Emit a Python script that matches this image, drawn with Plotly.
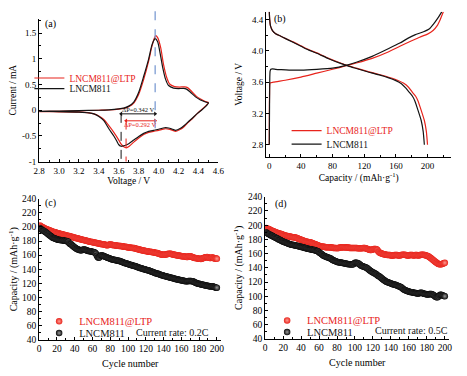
import plotly.graph_objects as go

# ---------------- DATA ----------------
# (a) cyclic voltammetry: voltage (V) / current (mA), full loop
cv_v_ltp = [2.8, 3.0, 3.2, 3.4, 3.5, 3.6, 3.65, 3.7, 3.75, 3.8, 3.85, 3.9, 3.93, 3.95, 3.97, 3.99, 4.02, 4.05, 4.08, 4.11, 4.16, 4.21, 4.26, 4.29, 4.33, 4.38, 4.43, 4.47, 4.5,
            4.47, 4.43, 4.39, 4.34, 4.3, 4.26, 4.22, 4.17, 4.14, 4.1, 4.06, 4.0, 3.95, 3.9, 3.85, 3.8, 3.75, 3.705, 3.675, 3.65, 3.62, 3.6, 3.55, 3.5, 3.45, 3.4, 3.35, 3.3, 3.2, 3.0, 2.8]
cv_i_ltp = [-0.025, -0.02, -0.01, 0.0, 0.005, 0.02, 0.035, 0.07, 0.14, 0.31, 0.6, 0.96, 1.22, 1.36, 1.45, 1.41, 1.22, 0.88, 0.64, 0.51, 0.46, 0.45, 0.455, 0.44, 0.37, 0.27, 0.21, 0.17, 0.15,
            0.08, 0.01, -0.06, -0.16, -0.23, -0.31, -0.37, -0.41, -0.39, -0.365, -0.36, -0.39, -0.41, -0.43, -0.47, -0.54, -0.62, -0.70, -0.73, -0.71, -0.65, -0.58, -0.43, -0.3, -0.18, -0.11, -0.07, -0.05, -0.035, -0.03, -0.025]
cv_v_bare = [2.8, 3.0, 3.2, 3.4, 3.5, 3.6, 3.65, 3.7, 3.75, 3.8, 3.85, 3.9, 3.93, 3.95, 3.965, 3.99, 4.01, 4.04, 4.07, 4.1, 4.15, 4.2, 4.25, 4.28, 4.32, 4.37, 4.42, 4.47, 4.5,
             4.47, 4.43, 4.39, 4.34, 4.3, 4.26, 4.22, 4.17, 4.14, 4.1, 4.06, 4.0, 3.95, 3.9, 3.85, 3.8, 3.75, 3.7, 3.66, 3.625, 3.6, 3.58, 3.55, 3.5, 3.45, 3.4, 3.35, 3.3, 3.2, 3.0, 2.8]
cv_i_bare = [-0.02, -0.015, -0.008, 0.0, 0.008, 0.025, 0.04, 0.08, 0.16, 0.35, 0.66, 1.0, 1.25, 1.35, 1.39, 1.33, 1.16, 0.84, 0.6, 0.48, 0.43, 0.42, 0.425, 0.41, 0.35, 0.26, 0.2, 0.16, 0.14,
             0.07, 0.0, -0.06, -0.15, -0.22, -0.29, -0.35, -0.39, -0.37, -0.345, -0.34, -0.37, -0.39, -0.41, -0.45, -0.51, -0.58, -0.65, -0.685, -0.70, -0.67, -0.6, -0.5, -0.36, -0.2, -0.12, -0.07, -0.05, -0.035, -0.025, -0.02]
peak_ox = 3.965
dp_bare = 0.342
dp_ltp = 0.292

# (b) charge / discharge profiles: capacity (mAh/g) / voltage (V)
chg_cap_ltp = [0, 0.3, 1, 5, 20, 40, 60, 80, 97, 110, 130, 151, 165, 180, 190, 200, 207, 212, 216, 220]
chg_v_ltp = [2.8, 3.45, 3.59, 3.60, 3.625, 3.665, 3.715, 3.765, 3.81, 3.845, 3.905, 3.99, 4.06, 4.13, 4.175, 4.215, 4.26, 4.32, 4.4, 4.5]
dis_cap_ltp = [0, 0.5, 1.5, 4, 8, 14, 20, 30, 40, 50, 60, 75, 90, 100, 110, 125, 140, 152, 162, 170, 176, 181, 185, 188, 192, 196, 198.5, 200]
dis_v_ltp = [4.5, 4.4, 4.32, 4.26, 4.22, 4.19, 4.16, 4.115, 4.065, 4.015, 3.975, 3.905, 3.845, 3.81, 3.78, 3.735, 3.695, 3.66, 3.625, 3.585, 3.535, 3.47, 3.42, 3.36, 3.24, 3.11, 2.97, 2.8]
chg_cap_bare = [0, 0.3, 0.6, 1, 2, 4, 8, 15, 25, 40, 60, 80, 97, 110, 130, 151, 165, 175, 184, 195, 202, 208, 213, 218]
chg_v_bare = [2.8, 3.3, 3.65, 3.74, 3.765, 3.77, 3.765, 3.76, 3.755, 3.755, 3.765, 3.78, 3.815, 3.855, 3.93, 4.03, 4.1, 4.16, 4.205, 4.245, 4.28, 4.35, 4.42, 4.5]
dis_cap_bare = [0, 0.5, 1.5, 4, 8, 14, 20, 30, 40, 50, 60, 75, 90, 100, 110, 125, 140, 151, 160, 167, 172, 177, 181, 184, 188, 192, 194.5, 196]
dis_v_bare = [4.5, 4.4, 4.32, 4.26, 4.22, 4.19, 4.16, 4.11, 4.06, 4.01, 3.97, 3.9, 3.84, 3.805, 3.775, 3.73, 3.69, 3.655, 3.62, 3.58, 3.53, 3.47, 3.42, 3.36, 3.24, 3.11, 2.97, 2.8]

# (c)/(d) cycling: cycle number / discharge capacity (mAh/g)
cycles = list(range(1, 201))
cap_02C_ltp = [
    202, 201, 200, 199.5, 199, 198, 197.5, 197, 196.5, 196,
    195.5, 195, 194.5, 194, 193.5, 193, 193, 192.5, 192, 191.5,
    191, 191, 190.5, 190, 190, 189.5, 189, 189, 188.5, 188,
    188, 187.5, 187, 187, 186.5, 186, 186, 185.5, 185, 185,
    184.5, 184, 184, 183.5, 183, 183, 182.5, 182, 182, 181.5,
    181, 181, 180.5, 180, 180, 179.5, 179, 179, 178.5, 178.5,
    178, 178, 177.5, 177.5, 177, 177, 176.5, 176.5, 176, 176,
    175.5, 175.5, 175, 175, 174.5, 174, 174, 174.5, 175, 175,
    175, 174.5, 174.5, 174, 174, 174, 173.5, 173.5, 173.5, 173,
    173, 173, 172.5, 172.5, 172, 172, 172, 171.5, 171.5, 171,
    171, 171, 170.5, 170.5, 170, 170, 170, 169.5, 169, 169,
    168.5, 168, 168, 167.5, 167, 167, 166.5, 166.5, 166, 166,
    165.5, 165.5, 165, 165, 165, 164.5, 164.5, 164, 164, 163.5,
    163.5, 163, 163, 162.5, 162, 161.5, 161, 161, 160.5, 160.5,
    160.5, 161, 161, 161.5, 161.5, 162, 162, 162, 161.5, 161,
    161, 160.5, 160.5, 160, 160, 159.5, 159.5, 159, 159, 158.5,
    158.5, 158.5, 158, 158, 158, 157.5, 157.5, 158, 158.5, 158.5,
    158, 157.5, 157, 156.5, 156, 156, 155.5, 155.5, 155, 155,
    155, 154.5, 155, 155.5, 156, 156.5, 157, 157, 157.5, 157,
    156.5, 156, 156, 156.5, 157, 156, 155.5, 155, 155.5, 155]
cap_02C_bare = [
    198, 197, 196, 195, 194.5, 194, 193, 192, 191, 190,
    189, 188, 187, 186, 185, 184.5, 184, 183.5, 183, 182.5,
    182, 182, 181.5, 181.5, 181, 181, 181, 180.5, 180.5, 180,
    180, 179.5, 179, 177, 176, 175.5, 174, 173, 172, 171,
    170, 169, 168.5, 168, 167.5, 167, 167, 167, 167.5, 168,
    168, 167.5, 167, 166.5, 166, 166, 165.5, 165.5, 165, 165,
    164.5, 164, 163.5, 162, 159, 157, 156.5, 157, 159, 160,
    159.5, 159, 158.5, 158, 157.5, 157, 156.5, 156, 155.5, 155,
    154.5, 154, 154, 153.5, 153, 153, 152.5, 152.5, 152, 152,
    151.5, 151, 150.5, 150, 149.5, 149, 148.5, 148.5, 148, 147.5,
    147, 146.5, 146, 146, 145.5, 145, 144.5, 144.5, 144, 143.5,
    143, 142.5, 142, 141.5, 141.5, 141, 140.5, 140, 140, 139.5,
    139, 138.5, 138.5, 138, 137.5, 137, 136.5, 136, 135.5, 135,
    134.5, 134, 134, 133.5, 133, 132.5, 132, 131.5, 131.5, 131,
    130.5, 130, 130, 129.5, 129, 129, 128.5, 128, 128, 127.5,
    127, 127, 126.5, 126, 126, 125.5, 125, 125, 124.5, 124.5,
    124, 124, 123.5, 123.5, 123, 123, 123, 123.5, 123.5, 123.5,
    123.5, 123, 123, 122.5, 121.5, 121, 120.5, 120, 119.5, 119.5,
    119, 118.5, 118.5, 118, 118, 117.5, 117, 117, 116.5, 116.5,
    116, 116, 115.5, 115.5, 116, 115.5, 115, 114.5, 114, 114]
cap_05C_ltp = [
    196, 195.5, 195, 194.5, 194, 193, 192.5, 192, 191.5, 191,
    190.5, 190, 189.5, 189, 188.5, 188, 188, 187.5, 187, 186.5,
    186, 185.5, 185, 185, 184.5, 184.5, 184, 184, 183.5, 183.5,
    183, 183, 182.5, 182.5, 182, 181.5, 181, 180.5, 180, 179.5,
    179, 178.5, 178, 177.5, 177, 177, 176.5, 176.5, 176, 176,
    175.5, 175, 174.5, 174, 173.5, 173, 172.5, 172, 171.5, 171,
    170.5, 170, 170, 169.5, 169.5, 169.5, 169, 169, 169, 169,
    169, 169, 168.5, 168.5, 168.5, 168, 168, 168, 168, 167.5,
    168, 168, 168.5, 168.5, 168.5, 169, 169, 169, 169, 168.5,
    168.5, 168.5, 168.5, 168, 168, 168, 168, 168, 168, 168,
    168, 168, 167.5, 167.5, 167.5, 167.5, 167.5, 167.5, 168, 168,
    168, 167.5, 167, 166.5, 166, 165.5, 165, 165, 165.5, 166,
    166.5, 166.5, 166.5, 166, 165, 163, 162, 161, 160.5, 160,
    159.5, 159, 159, 158.5, 158.5, 158, 158, 158, 158, 157.5,
    157.5, 157.5, 157.5, 158, 158, 158, 158, 157.5, 157.5, 157.5,
    158, 158, 158.5, 158.5, 158.5, 158, 158, 157.5, 157.5, 157.5,
    158, 158, 158, 158, 157.5, 157.5, 158, 158, 158, 157.5,
    157.5, 158, 158, 158.5, 158.5, 158.5, 158, 158, 157.5, 157,
    156.5, 156, 155, 154, 153, 152, 151, 150, 149, 148,
    147, 146, 145.5, 145, 145, 145, 145.5, 146, 146.5, 147]
cap_05C_bare = [
    190, 189, 188, 187.5, 187, 186, 185.5, 185, 184, 183.5,
    183, 182, 181.5, 181, 180, 179.5, 179, 178, 177.5, 177,
    176.5, 176, 175.5, 175, 174.5, 174, 173.5, 173, 172.5, 172.5,
    172, 172, 171.5, 171.5, 171, 171, 170.5, 170, 170, 169.5,
    169, 169, 168.5, 168, 168, 167.5, 167, 167, 166.5, 166,
    166, 165.5, 165.5, 165, 165, 164.5, 164, 163.5, 163, 162,
    161, 160, 159, 158, 157, 156.5, 156, 155.5, 155, 154.5,
    154, 153.5, 153, 152, 151, 150.5, 150, 149.5, 149, 148.5,
    148, 148, 147.5, 147.5, 147, 147, 146.5, 146.5, 146, 146,
    145.5, 145.5, 145, 145, 145, 144.5, 144.5, 145, 146, 147,
    147, 147, 146.5, 146, 145, 144, 143, 142.5, 142, 141.5,
    141, 140.5, 140, 139, 138, 137, 136, 135, 134, 133.5,
    133, 132, 131.5, 130.5, 129.5, 128.5, 128, 127, 126, 125,
    124, 123, 122, 121, 120.5, 120, 119.5, 119, 118.5, 118,
    117.5, 117, 116.5, 116.5, 116, 115.5, 115, 114.5, 114, 113.5,
    113, 112, 111, 110, 109, 108.5, 108, 107.5, 107, 106.5,
    106, 106, 105.5, 105.5, 105, 105, 104.5, 104.5, 104, 104,
    104, 104.5, 105, 105, 104.5, 104, 103.5, 103, 103, 102.5,
    102.5, 102.5, 103, 103, 103, 102.5, 102, 101, 100, 99,
    98.5, 98.5, 99.5, 101, 102, 102, 101.5, 101, 100.5, 100]

NAME_LTP = "LNCM811@LTP"
NAME_BARE = "LNCM811"

# ---------------- STYLE ----------------
SERIF = "Liberation Serif"
RED = "#e8241c"
BLK = "#141414"
W, H = 467, 376


def dom_x(a, b):
    return [a / W, b / W]


def dom_y(top, bottom):
    return [1 - bottom / H, 1 - top / H]


def axis(**kw):
    base = dict(showline=True, linecolor="black", linewidth=1, ticks="inside", ticklen=3,
                tickwidth=1, tickcolor="black", showgrid=False, zeroline=False,
                tickfont=dict(family=SERIF, size=9, color="black"),
                minor=dict(ticks="inside", ticklen=2, tickcolor="black", showgrid=False))
    base.update(kw)
    return base


fig = go.Figure()

# (a)
fig.add_trace(go.Scatter(x=cv_v_ltp, y=cv_i_ltp, mode="lines", name=NAME_LTP, legend="legend",
                         line=dict(color=RED, width=1.2, shape="spline", smoothing=0.6), xaxis="x", yaxis="y"))
fig.add_trace(go.Scatter(x=cv_v_bare, y=cv_i_bare, mode="lines", name=NAME_BARE, legend="legend2",
                         line=dict(color=BLK, width=1.2, shape="spline", smoothing=0.6), xaxis="x", yaxis="y"))
# peak-separation arrows in (a)
fig.add_trace(go.Scatter(x=[peak_ox - dp_bare, peak_ox], y=[-0.07, -0.07], mode="lines+markers",
                         showlegend=False, hoverinfo="skip", line=dict(color=BLK, width=1),
                         marker=dict(symbol=["triangle-left", "triangle-right"], size=4, color=BLK),
                         xaxis="x", yaxis="y"))
fig.add_trace(go.Scatter(x=[peak_ox - dp_ltp, peak_ox], y=[-0.205, -0.205], mode="lines+markers",
                         showlegend=False, hoverinfo="skip", line=dict(color=RED, width=1),
                         marker=dict(symbol=["triangle-left", "triangle-right"], size=4, color=RED),
                         xaxis="x", yaxis="y"))
# (b)
for cap, v, show in [(chg_cap_ltp, chg_v_ltp, True), (dis_cap_ltp, dis_v_ltp, False)]:
    fig.add_trace(go.Scatter(x=cap, y=v, mode="lines", name=NAME_LTP, legend="legend3", showlegend=show,
                             line=dict(color=RED, width=1.2, shape="spline", smoothing=0.5), xaxis="x2", yaxis="y2"))
for cap, v, show in [(chg_cap_bare, chg_v_bare, True), (dis_cap_bare, dis_v_bare, False)]:
    fig.add_trace(go.Scatter(x=cap, y=v, mode="lines", name=NAME_BARE, legend="legend4", showlegend=show,
                             line=dict(color=BLK, width=1.2, shape="spline", smoothing=0.5), xaxis="x2", yaxis="y2"))

# (c), (d)
mk_red = dict(color=RED, size=6.5, gradient=dict(type="radial", color="#ff9a90"), line=dict(width=0))
mk_blk = dict(color="#0a0a0a", size=6.5, gradient=dict(type="radial", color="#9a9a9a"), line=dict(width=0))
fig.add_trace(go.Scatter(x=cycles, y=cap_02C_ltp, mode="markers", name=NAME_LTP, legend="legend5",
                         marker=mk_red, xaxis="x3", yaxis="y3"))
fig.add_trace(go.Scatter(x=cycles, y=cap_02C_bare, mode="markers", name=NAME_BARE, legend="legend6",
                         marker=mk_blk, xaxis="x3", yaxis="y3"))
fig.add_trace(go.Scatter(x=cycles, y=cap_05C_ltp, mode="markers", name=NAME_LTP, legend="legend7",
                         marker=mk_red, xaxis="x4", yaxis="y4"))
fig.add_trace(go.Scatter(x=cycles, y=cap_05C_bare, mode="markers", name=NAME_BARE, legend="legend8",
                         marker=mk_blk, xaxis="x4", yaxis="y4"))

title_font_ab = dict(family=SERIF, size=9.5, color="black")
title_font_cd = dict(family=SERIF, size=10, color="black")

xa_rng = [2.8, 4.6]
ya_rng = [-1, 1.78]

layout = dict(
    width=W, height=H, margin=dict(l=0, r=0, t=0, b=0),
    paper_bgcolor="white", plot_bgcolor="white", showlegend=True,
    font=dict(family=SERIF, color="black"),
    xaxis=axis(domain=dom_x(34, 218), range=xa_rng, dtick=0.2, tick0=2.8, tickformat=".1f",
               minor=dict(ticks="inside", ticklen=2, dtick=0.1, tickcolor="black"),
               anchor="y", title=dict(text="Voltage / V", font=title_font_ab, standoff=2)),
    yaxis=axis(domain=dom_y(14, 161), range=ya_rng, tickvals=[-1, -0.5, 0, 0.5, 1, 1.5],
               ticktext=["-1", "-0.5", "0", "0.5", "1", "1.5"],
               minor=dict(ticks="inside", ticklen=2, tickvals=[-0.75, -0.25, 0.25, 0.75, 1.25, 1.75], tickcolor="black"),
               anchor="x", title=dict(text="Current / mA", font=title_font_ab, standoff=3)),
    xaxis2=axis(domain=dom_x(267, 457), range=[-4, 230], tickvals=[0, 40, 80, 120, 160, 200],
                minor=dict(ticks="inside", ticklen=2, tickvals=[20, 60, 100, 140, 180, 220], tickcolor="black"),
                anchor="y2", title=dict(text="Capacity / (mAh·g<sup>-1</sup>)", font=title_font_ab, standoff=1)),
    yaxis2=axis(domain=dom_y(7, 156), range=[2.645, 4.5], tickvals=[2.8, 3.2, 3.6, 4.0, 4.4], tickformat=".1f",
                minor=dict(ticks="inside", ticklen=2, tickvals=[3.0, 3.4, 3.8, 4.2], tickcolor="black"),
                anchor="x2", title=dict(text="Voltage / V", font=title_font_ab, standoff=7)),
    xaxis3=axis(domain=dom_x(34, 221), range=[0, 205], dtick=20, tick0=0,
                minor=dict(ticks="inside", ticklen=2, dtick=10, tickcolor="black"),
                tickfont=dict(family=SERIF, size=9.5, color="black"),
                anchor="y3", title=dict(text="Cycle number", font=title_font_cd, standoff=6)),
    yaxis3=axis(domain=dom_y(199, 344), range=[40, 240], dtick=20, tick0=40,
                minor=dict(ticks="inside", ticklen=2, dtick=10, tickcolor="black"),
                tickfont=dict(family=SERIF, size=9.5, color="black"),
                anchor="x3", title=dict(text="Capacity / (mAh·g<sup>-1</sup>)", font=title_font_cd, standoff=2)),
    xaxis4=axis(domain=dom_x(266, 455), range=[0, 205], dtick=20, tick0=0,
                minor=dict(ticks="inside", ticklen=2, dtick=10, tickcolor="black"),
                tickfont=dict(family=SERIF, size=9.5, color="black"),
                anchor="y4", title=dict(text="Cycle number", font=title_font_cd, standoff=6)),
    yaxis4=axis(domain=dom_y(197, 343), range=[40, 240], dtick=20, tick0=40,
                minor=dict(ticks="inside", ticklen=2, dtick=10, tickcolor="black"),
                tickfont=dict(family=SERIF, size=9.5, color="black"),
                anchor="x4", title=dict(text="Capacity / (mAh·g<sup>-1</sup>)", font=title_font_cd, standoff=3)),
)


def leg(xpx, ypx, color, size):
    return dict(x=xpx / W, y=1 - ypx / H, xanchor="left", yanchor="middle", bgcolor="rgba(0,0,0,0)",
                borderwidth=0, font=dict(family=SERIF, size=size, color=color), tracegroupgap=0)


layout["legend"] = leg(24, 75, RED, 9.5)
layout["legend2"] = leg(24, 86, BLK, 9.5)
layout["legend3"] = leg(288, 129, RED, 9.5)
layout["legend4"] = leg(288, 143, BLK, 9.5)
layout["legend5"] = leg(34, 325, RED, 10.5)
layout["legend6"] = leg(34, 337, BLK, 10.5)
layout["legend7"] = leg(268, 324, RED, 10.5)
layout["legend8"] = leg(268, 336, BLK, 10.5)

fig.update_layout(**layout)

# ---- guide lines / labels in (a) ----
frac_peak = (peak_ox - xa_rng[0]) / (xa_rng[1] - xa_rng[0])
y_frac = lambda v: (v - ya_rng[0]) / (ya_rng[1] - ya_rng[0])
fig.add_shape(type="line", xref="x domain", yref="y domain", x0=frac_peak, x1=frac_peak,
              y0=y_frac(-0.35), y1=1.08, line=dict(color="#7d9cd3", width=1.3, dash="dash"))
fig.add_shape(type="line", xref="x", yref="y", x0=peak_ox - dp_bare, x1=peak_ox - dp_bare,
              y0=-0.07, y1=-0.95, line=dict(color=BLK, width=1, dash="dash"))
fig.add_shape(type="line", xref="x", yref="y", x0=peak_ox - dp_ltp, x1=peak_ox - dp_ltp,
              y0=-0.2, y1=-1.0, line=dict(color=RED, width=1, dash="dash"))
fig.add_annotation(x=peak_ox - dp_bare / 2, y=0.015, xref="x", yref="y", text=f"ΔP={dp_bare:.3f} V",
                   showarrow=False, font=dict(family=SERIF, size=6.5, color=BLK))
fig.add_annotation(x=peak_ox - dp_ltp / 2, y=-0.275, xref="x", yref="y", text=f"ΔP={dp_ltp:.3f} V",
                   showarrow=False, font=dict(family=SERIF, size=6.5, color=RED))

# panel labels
for lab, xr, yr, xf, yf in [("(a)", "x domain", "y domain", 0.065, 0.96),
                            ("(b)", "x2 domain", "y2 domain", 0.075, 0.95),
                            ("(c)", "x3 domain", "y3 domain", 0.065, 0.97),
                            ("(d)", "x4 domain", "y4 domain", 0.085, 0.95)]:
    fig.add_annotation(x=xf, y=yf, xref=xr, yref=yr, text=lab, showarrow=False,
                       xanchor="center", yanchor="middle",
                       font=dict(family=SERIF, size=10, color="black"))

fig.add_annotation(x=150, y=51, xref="x3", yref="y3", text="Current rate: 0.2C", showarrow=False,
                   font=dict(family=SERIF, size=10, color=BLK))
fig.add_annotation(x=163, y=52, xref="x4", yref="y4", text="Current rate: 0.5C", showarrow=False,
                   font=dict(family=SERIF, size=10, color=BLK))

fig.write_html("out.html", config={"displayModeBar": False},
               post_script="document.body.style.margin='0px';document.body.style.padding='0px';")
